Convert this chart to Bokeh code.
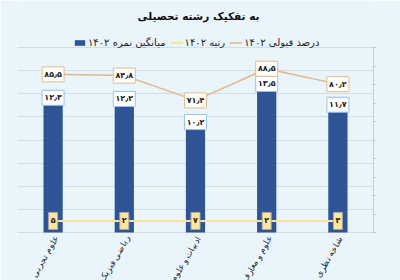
import math
from bokeh.plotting import figure
from bokeh.models import (ColumnDataSource, FactorRange, Range1d, LinearAxis, FixedTicker,
                          Grid, LabelSet, Label, Legend, LegendItem)
from bokeh.transform import dodge
from bokeh.core.properties import value
from bokeh.embed import file_html
from bokeh.resources import INLINE

# ---- data ----
categories = ["علوم تجربی", "ریاضی فیزیک", "ادبیات و علوم انسانی", "علوم و معارف اسلامی", "شاخه نظری"]
avg_score_1402 = [12.3, 12.2, 10.2, 13.5, 11.7]
acceptance_pct_1402 = [85.5, 84.8, 71.4, 88.5, 80.2]
rank_1402 = [5, 2, 7, 2, 3]
rank_plot_level = [1, 1, 1, 1, 1]   # rank series is drawn flat at this height (primary axis)
score_ticks = [0, 2, 4, 6, 8, 10, 12, 14, 16]
pct_ticks = [0, 10, 20, 30, 40, 50, 60, 70, 80, 90, 100]

title_text = "به تفکیک رشته تحصیلی"
legend_score = "میانگین نمره ۱۴۰۲"
legend_rank = "رتبه ۱۴۰۲"
legend_pct = "درصد قبولی ۱۴۰۲"

FA = str.maketrans("0123456789.", "۰۱۲۳۴۵۶۷۸۹٫")
def fa(v, dec=1):
    s = f"{v:.{dec}f}" if dec else str(v)
    return s.translate(FA)

FONT = "DejaVu Sans"
BG = "#EAF4FB"
BAR = "#2E5495"
ORANGE = "#E6B487"
YELLOW = "#F5E3A0"

# layout: canvas 400x280, plot area rows 47..232 (px); frame spans full height
W, H = 400, 280
AREA_TOP, AREA_BOTTOM = 47, 232
score_max, pct_max = score_ticks[-1], pct_ticks[-1]
ppu_s = (AREA_BOTTOM - AREA_TOP) / score_max
ppu_p = (AREA_BOTTOM - AREA_TOP) / pct_max
y_rng = Range1d(-(H - AREA_BOTTOM) / ppu_s, score_max + AREA_TOP / ppu_s)
p_rng = Range1d(-(H - AREA_BOTTOM) / ppu_p, pct_max + AREA_TOP / ppu_p)

src = ColumnDataSource(dict(
    cat=categories,
    score=avg_score_1402,
    score_lbl=[fa(v) for v in avg_score_1402],
    pct=acceptance_pct_1402,
    pct_lbl=[fa(v) for v in acceptance_pct_1402],
    rank_y=rank_plot_level,
    rank_lbl=[fa(v, 0) for v in rank_1402],
))

p = figure(width=W, height=H, x_range=FactorRange(factors=categories, range_padding=0),
           y_range=y_rng, output_backend="svg", toolbar_location=None,
           x_axis_location=None, y_axis_location=None,
           min_border_left=17, min_border_right=27, min_border_top=0, min_border_bottom=0)
p.extra_y_ranges = {"pct": p_rng}
p.background_fill_color = BG
p.border_fill_color = BG
p.outline_line_color = None
p.grid.visible = False

grid = Grid(dimension=1, ticker=FixedTicker(ticks=score_ticks),
            grid_line_color="#D3DDE6", grid_line_width=1)
p.add_layout(grid, "center")

raxis = LinearAxis(y_range_name="pct", ticker=FixedTicker(ticks=pct_ticks), bounds=(0, pct_max),
                   major_label_overrides={t: "" for t in pct_ticks}, major_label_standoff=0,
                   axis_line_color="#C4CBD2", major_tick_line_color="#C4CBD2",
                   major_tick_in=1, major_tick_out=3, minor_tick_line_color=None)
p.add_layout(raxis, "right")

bars = p.vbar(x="cat", top="score", width=0.27, source=src, fill_color=BAR, line_color=None)
rank_line = p.line(x="cat", y="rank_y", source=src, line_color=YELLOW, line_width=2)
pct_line = p.line(x="cat", y="pct", source=src, y_range_name="pct", line_color=ORANGE, line_width=1.5)

# bar value boxes (just under the bar top)
score_pos = dodge("score", -0.65, range=p.y_range)
p.rect(x="cat", y=score_pos, width=22, height=15, width_units="screen", height_units="screen",
       source=src, fill_color="white", line_color="#9DC3E6", line_width=1)
p.text(x="cat", y=score_pos, text="score_lbl", source=src, text_align="center",
       text_baseline="middle", text_font=value(FONT), text_font_size="8px",
       text_font_style="bold", text_color="#222222")

# acceptance boxes centred on the line points
p.rect(x="cat", y="pct", y_range_name="pct", width=22, height=15, width_units="screen",
       height_units="screen", source=src, fill_color="#FFFDF8", line_color="#E3BC94", line_width=1)
p.text(x="cat", y="pct", y_range_name="pct", text="pct_lbl", source=src, text_align="center",
       text_baseline="middle", text_font=value(FONT), text_font_size="8px",
       text_font_style="bold", text_color="#222222")

# rank boxes
p.rect(x="cat", y="rank_y", width=9, height=17, width_units="screen", height_units="screen",
       source=src, fill_color="#FFE699", line_color="#A8A8A8", line_width=1)
p.text(x="cat", y="rank_y", text="rank_lbl", source=src, text_align="center",
       text_baseline="middle", text_font=value(FONT), text_font_size="8px",
       text_font_style="bold", text_color="#222222")

# category labels (rotated, below the bars)
p.add_layout(LabelSet(x="cat", y=0, text="cat", source=src, angle=math.pi / 3,
                      text_align="right", text_baseline="middle", x_offset=3, y_offset=-4,
                      text_font=FONT, text_font_size="8.5px", text_color="#222222"))

# title
p.add_layout(Label(x=181, y=H - 15, x_units="screen", y_units="screen", text=title_text,
                   text_align="center", text_baseline="middle", text_font=FONT,
                   text_font_size="10.5px", text_font_style="bold", text_color="#111111"))

legend = Legend(items=[LegendItem(label=legend_score, renderers=[bars]),
                       LegendItem(label=legend_rank, renderers=[rank_line]),
                       LegendItem(label=legend_pct, renderers=[pct_line])],
                orientation="horizontal", location=(56, H - 48), margin=0, padding=0,
                spacing=4, glyph_width=13, glyph_height=7, label_height=10,
                label_standoff=2, label_text_font=FONT, label_text_font_size="10px",
                label_text_color="#222222", border_line_color=None, background_fill_alpha=0)
p.add_layout(legend, "center")

open("out.html", "w").write(file_html(p, INLINE))
